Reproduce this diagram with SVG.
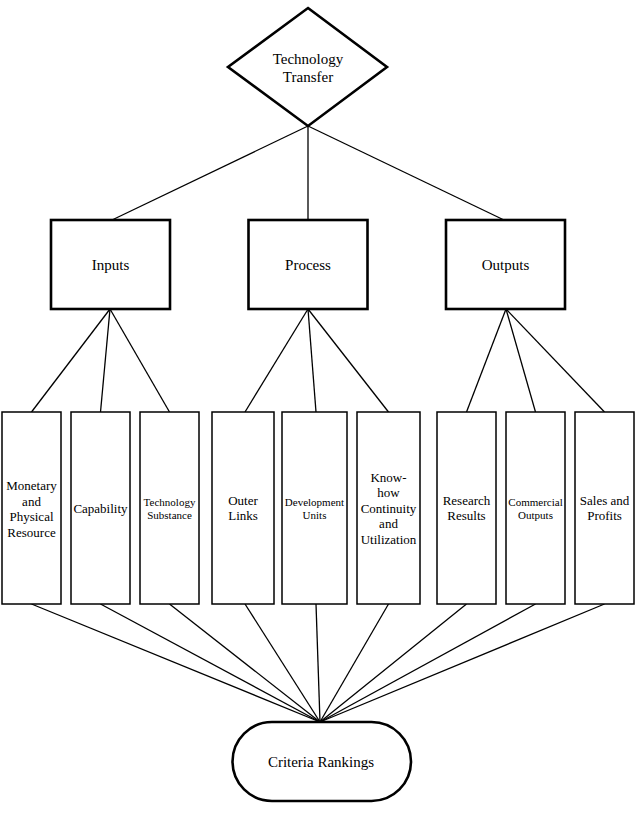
<svg xmlns="http://www.w3.org/2000/svg" width="637" height="830" viewBox="0 0 637 830">
<style>
text { font-family: "Liberation Serif", "Times New Roman", serif; fill: #000; text-anchor: middle; }
.t15 { font-size: 15px; }
.t13 { font-size: 13px; }
.t11 { font-size: 11px; }
.thick { fill: #fff; stroke: #000; stroke-width: 2.6; }
.thin { fill: #fff; stroke: #000; stroke-width: 1.5; }
.conn line { stroke: #000; stroke-width: 1.3; }
</style>
<rect width="637" height="830" fill="#fff"/>
<g id="connectors" class="conn">
  <line x1="308" y1="126" x2="112" y2="220"/>
  <line x1="308" y1="126" x2="308" y2="220"/>
  <line x1="308" y1="126" x2="504" y2="220"/>
  <line x1="110" y1="309" x2="31.5" y2="412"/>
  <line x1="110" y1="309" x2="100.5" y2="412"/>
  <line x1="110" y1="309" x2="169.5" y2="412"/>
  <line x1="308" y1="309" x2="245" y2="412"/>
  <line x1="308" y1="309" x2="316" y2="412"/>
  <line x1="308" y1="309" x2="388.5" y2="412"/>
  <line x1="506" y1="309" x2="466.5" y2="412"/>
  <line x1="506" y1="309" x2="535.5" y2="412"/>
  <line x1="506" y1="309" x2="604.5" y2="412"/>
  <line x1="31.5" y1="604" x2="320" y2="722"/>
  <line x1="100.5" y1="604" x2="320" y2="722"/>
  <line x1="169.5" y1="604" x2="320" y2="722"/>
  <line x1="245" y1="604" x2="320" y2="722"/>
  <line x1="316" y1="604" x2="320" y2="722"/>
  <line x1="388.5" y1="604" x2="320" y2="722"/>
  <line x1="466.5" y1="604" x2="320" y2="722"/>
  <line x1="535.5" y1="604" x2="320" y2="722"/>
  <line x1="604.5" y1="604" x2="320" y2="722"/>
</g>
<g id="technology-transfer">
  <polygon class="thick" points="308,8 387,67 308,126 228,67"/>
  <text class="t15" x="308" y="64">Technology</text>
  <text class="t15" x="308" y="81.5">Transfer</text>
</g>
<g id="inputs">
  <rect class="thick" x="51" y="220" width="119" height="89"/>
  <text class="t15" x="110.5" y="270">Inputs</text>
</g>
<g id="process">
  <rect class="thick" x="248.5" y="220" width="119" height="89"/>
  <text class="t15" x="308" y="270">Process</text>
</g>
<g id="outputs">
  <rect class="thick" x="446" y="220" width="119" height="89"/>
  <text class="t15" x="505.5" y="270">Outputs</text>
</g>
<g id="monetary">
  <rect class="thin" x="2" y="412" width="59" height="192"/>
  <text class="t13" x="31.5" y="490">Monetary</text>
  <text class="t13" x="31.5" y="505.5">and</text>
  <text class="t13" x="31.5" y="521">Physical</text>
  <text class="t13" x="31.5" y="536.5">Resource</text>
</g>
<g id="capability">
  <rect class="thin" x="71" y="412" width="59" height="192"/>
  <text class="t13" x="100.5" y="512.5">Capability</text>
</g>
<g id="technology-substance">
  <rect class="thin" x="140" y="412" width="59" height="192"/>
  <text class="t11" x="169.5" y="506">Technology</text>
  <text class="t11" x="169.5" y="519">Substance</text>
</g>
<g id="outer-links">
  <rect class="thin" x="212" y="412" width="62" height="192"/>
  <text class="t13" x="243" y="504.5">Outer</text>
  <text class="t13" x="243" y="520">Links</text>
</g>
<g id="development-units">
  <rect class="thin" x="282" y="412" width="65" height="192"/>
  <text class="t11" x="314.5" y="505.5">Development</text>
  <text class="t11" x="314.5" y="518.5">Units</text>
</g>
<g id="know-how">
  <rect class="thin" x="357" y="412" width="63" height="192"/>
  <text class="t13" x="388.5" y="481.5">Know-</text>
  <text class="t13" x="388.5" y="497">how</text>
  <text class="t13" x="388.5" y="512.7">Continuity</text>
  <text class="t13" x="388.5" y="528.4">and</text>
  <text class="t13" x="388.5" y="544">Utilization</text>
</g>
<g id="research-results">
  <rect class="thin" x="437" y="412" width="59" height="192"/>
  <text class="t13" x="466.5" y="504.5">Research</text>
  <text class="t13" x="466.5" y="520">Results</text>
</g>
<g id="commercial-outputs">
  <rect class="thin" x="506" y="412" width="59" height="192"/>
  <text class="t11" x="535.5" y="506">Commercial</text>
  <text class="t11" x="535.5" y="518.7">Outputs</text>
</g>
<g id="sales-profits">
  <rect class="thin" x="575" y="412" width="59" height="192"/>
  <text class="t13" x="604.5" y="504.5">Sales and</text>
  <text class="t13" x="604.5" y="520">Profits</text>
</g>
<g id="criteria-rankings">
  <rect class="thick" x="232.5" y="722" width="178.5" height="79" rx="39.5" ry="39.5"/>
  <text class="t15" x="321" y="767">Criteria Rankings</text>
</g>
</svg>
